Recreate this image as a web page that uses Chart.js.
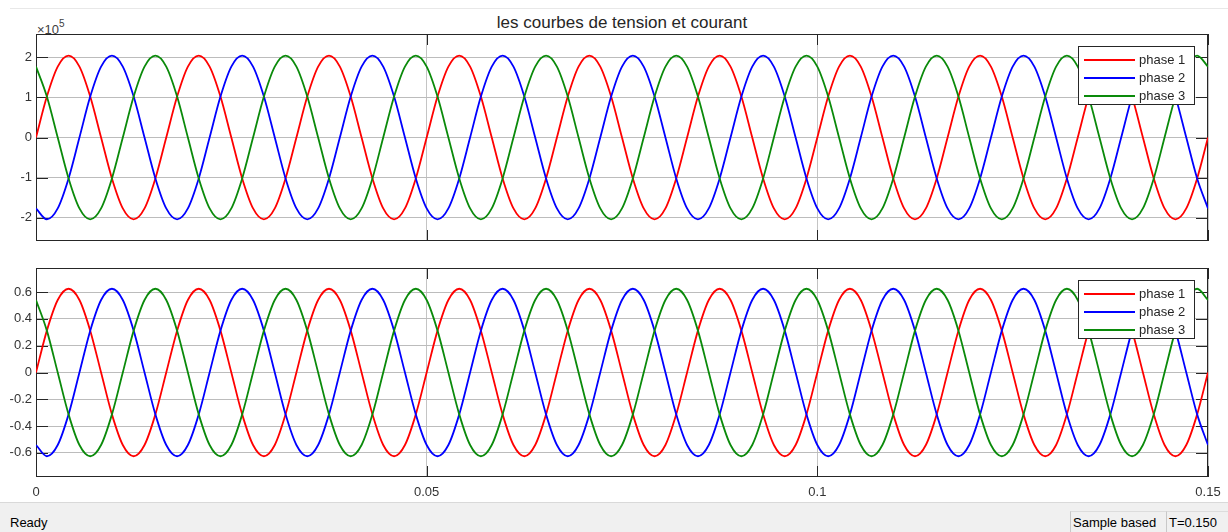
<!DOCTYPE html>
<html lang="fr">
<head>
<meta charset="utf-8">
<title>les courbes de tension et courant</title>
<script src="https://cdn.jsdelivr.net/npm/chart.js@4.4.1/dist/chart.umd.min.js"></script>
<style>
    body { margin: 0; width: 1228px; height: 532px; background: #fff; position: relative; overflow: hidden;
           font-family: "Liberation Sans", Arial, sans-serif; }
    canvas { position: absolute; left: 0; }
    #c1 { top: 0; }
    #c2 { top: 250px; }
    .filet { position: absolute; left: 10px; right: 0; top: 8px; border-top: 1px solid #e8e8e8; }
    .titre { position: absolute; left: 36px; width: 1172px; top: 13px; text-align: center;
             font-size: 17px; color: #262626; }
    .expo { position: absolute; left: 37px; top: 20px; font-size: 13px; color: #404040; }
    .expo sup { font-size: 10px; position: relative; top: -2px; }
    .statut { position: absolute; left: 0; right: 0; top: 502px; bottom: 0; background: #f0f0f0;
              border-top: 1px solid #d9d9d9; font-size: 13px; color: #000; }
    .statut span { position: absolute; top: 12px; }
    .case { position: absolute; top: 8px; bottom: 0; border-left: 1px solid #c8c8c8; border-top: 1px solid #dcdcdc; }
</style>
</head>
<body>
<div class="filet"></div>
<div class="titre">les courbes de tension et courant</div>
<div class="expo">&times;10<sup>5</sup></div>
<canvas id="c1" width="1228" height="250"></canvas>
<canvas id="c2" width="1228" height="252"></canvas>
<div class="statut">
    <span style="left:10px">Ready</span>
    <div class="case" style="left:1070px; width:95px"></div>
    <div class="case" style="left:1166px; width:62px"></div>
    <span style="left:1073px">Sample based</span>
    <span style="left:1169px">T=0.150</span>
</div>
<script>
// Instants d'échantillonnage (s)
const TEMPS = [
    0, 0.00139, 0.00278, 0.00417, 0.00556, 0.00694, 0.00833, 0.00972, 0.01111, 0.0125, 0.01389, 0.01528,
    0.01667, 0.01806, 0.01944, 0.02083, 0.02222, 0.02361, 0.025, 0.02639, 0.02778, 0.02917, 0.03056, 0.03194,
    0.03333, 0.03472, 0.03611, 0.0375, 0.03889, 0.04028, 0.04167, 0.04306, 0.04444, 0.04583, 0.04722, 0.04861,
    0.05, 0.05139, 0.05278, 0.05417, 0.05556, 0.05694, 0.05833, 0.05972, 0.06111, 0.0625, 0.06389, 0.06528,
    0.06667, 0.06806, 0.06944, 0.07083, 0.07222, 0.07361, 0.075, 0.07639, 0.07778, 0.07917, 0.08056, 0.08194,
    0.08333, 0.08472, 0.08611, 0.0875, 0.08889, 0.09028, 0.09167, 0.09306, 0.09444, 0.09583, 0.09722, 0.09861,
    0.1, 0.10139, 0.10278, 0.10417, 0.10556, 0.10694, 0.10833, 0.10972, 0.11111, 0.1125, 0.11389, 0.11528,
    0.11667, 0.11806, 0.11944, 0.12083, 0.12222, 0.12361, 0.125, 0.12639, 0.12778, 0.12917, 0.13056, 0.13194,
    0.13333, 0.13472, 0.13611, 0.1375, 0.13889, 0.14028, 0.14167, 0.14306, 0.14444, 0.14583, 0.14722, 0.14861,
    0.15
];

// Tensions (V)
const TENSION_PHASE1 = [
    0, 102000, 176700, 204000, 176700, 102000, 0, -102000, -176700, -204000, -176700, -102000,
    0, 102000, 176700, 204000, 176700, 102000, 0, -102000, -176700, -204000, -176700, -102000,
    0, 102000, 176700, 204000, 176700, 102000, 0, -102000, -176700, -204000, -176700, -102000,
    0, 102000, 176700, 204000, 176700, 102000, 0, -102000, -176700, -204000, -176700, -102000,
    0, 102000, 176700, 204000, 176700, 102000, 0, -102000, -176700, -204000, -176700, -102000,
    0, 102000, 176700, 204000, 176700, 102000, 0, -102000, -176700, -204000, -176700, -102000,
    0, 102000, 176700, 204000, 176700, 102000, 0, -102000, -176700, -204000, -176700, -102000,
    0, 102000, 176700, 204000, 176700, 102000, 0, -102000, -176700, -204000, -176700, -102000,
    0, 102000, 176700, 204000, 176700, 102000, 0, -102000, -176700, -204000, -176700, -102000,
    0
];
const TENSION_PHASE2 = [
    -176700, -204000, -176700, -102000, 0, 102000, 176700, 204000, 176700, 102000, 0, -102000,
    -176700, -204000, -176700, -102000, 0, 102000, 176700, 204000, 176700, 102000, 0, -102000,
    -176700, -204000, -176700, -102000, 0, 102000, 176700, 204000, 176700, 102000, 0, -102000,
    -176700, -204000, -176700, -102000, 0, 102000, 176700, 204000, 176700, 102000, 0, -102000,
    -176700, -204000, -176700, -102000, 0, 102000, 176700, 204000, 176700, 102000, 0, -102000,
    -176700, -204000, -176700, -102000, 0, 102000, 176700, 204000, 176700, 102000, 0, -102000,
    -176700, -204000, -176700, -102000, 0, 102000, 176700, 204000, 176700, 102000, 0, -102000,
    -176700, -204000, -176700, -102000, 0, 102000, 176700, 204000, 176700, 102000, 0, -102000,
    -176700, -204000, -176700, -102000, 0, 102000, 176700, 204000, 176700, 102000, 0, -102000,
    -176700
];
const TENSION_PHASE3 = [
    176700, 102000, 0, -102000, -176700, -204000, -176700, -102000, 0, 102000, 176700, 204000,
    176700, 102000, 0, -102000, -176700, -204000, -176700, -102000, 0, 102000, 176700, 204000,
    176700, 102000, 0, -102000, -176700, -204000, -176700, -102000, 0, 102000, 176700, 204000,
    176700, 102000, 0, -102000, -176700, -204000, -176700, -102000, 0, 102000, 176700, 204000,
    176700, 102000, 0, -102000, -176700, -204000, -176700, -102000, 0, 102000, 176700, 204000,
    176700, 102000, 0, -102000, -176700, -204000, -176700, -102000, 0, 102000, 176700, 204000,
    176700, 102000, 0, -102000, -176700, -204000, -176700, -102000, 0, 102000, 176700, 204000,
    176700, 102000, 0, -102000, -176700, -204000, -176700, -102000, 0, 102000, 176700, 204000,
    176700, 102000, 0, -102000, -176700, -204000, -176700, -102000, 0, 102000, 176700, 204000,
    176700
];

// Courants (A)
const COURANT_PHASE1 = [
    0, 0.3125, 0.5413, 0.625, 0.5413, 0.3125, 0, -0.3125, -0.5413, -0.625, -0.5413, -0.3125,
    0, 0.3125, 0.5413, 0.625, 0.5413, 0.3125, 0, -0.3125, -0.5413, -0.625, -0.5413, -0.3125,
    0, 0.3125, 0.5413, 0.625, 0.5413, 0.3125, 0, -0.3125, -0.5413, -0.625, -0.5413, -0.3125,
    0, 0.3125, 0.5413, 0.625, 0.5413, 0.3125, 0, -0.3125, -0.5413, -0.625, -0.5413, -0.3125,
    0, 0.3125, 0.5413, 0.625, 0.5413, 0.3125, 0, -0.3125, -0.5413, -0.625, -0.5413, -0.3125,
    0, 0.3125, 0.5413, 0.625, 0.5413, 0.3125, 0, -0.3125, -0.5413, -0.625, -0.5413, -0.3125,
    0, 0.3125, 0.5413, 0.625, 0.5413, 0.3125, 0, -0.3125, -0.5413, -0.625, -0.5413, -0.3125,
    0, 0.3125, 0.5413, 0.625, 0.5413, 0.3125, 0, -0.3125, -0.5413, -0.625, -0.5413, -0.3125,
    0, 0.3125, 0.5413, 0.625, 0.5413, 0.3125, 0, -0.3125, -0.5413, -0.625, -0.5413, -0.3125,
    0
];
const COURANT_PHASE2 = [
    -0.5413, -0.625, -0.5413, -0.3125, 0, 0.3125, 0.5413, 0.625, 0.5413, 0.3125, 0, -0.3125,
    -0.5413, -0.625, -0.5413, -0.3125, 0, 0.3125, 0.5413, 0.625, 0.5413, 0.3125, 0, -0.3125,
    -0.5413, -0.625, -0.5413, -0.3125, 0, 0.3125, 0.5413, 0.625, 0.5413, 0.3125, 0, -0.3125,
    -0.5413, -0.625, -0.5413, -0.3125, 0, 0.3125, 0.5413, 0.625, 0.5413, 0.3125, 0, -0.3125,
    -0.5413, -0.625, -0.5413, -0.3125, 0, 0.3125, 0.5413, 0.625, 0.5413, 0.3125, 0, -0.3125,
    -0.5413, -0.625, -0.5413, -0.3125, 0, 0.3125, 0.5413, 0.625, 0.5413, 0.3125, 0, -0.3125,
    -0.5413, -0.625, -0.5413, -0.3125, 0, 0.3125, 0.5413, 0.625, 0.5413, 0.3125, 0, -0.3125,
    -0.5413, -0.625, -0.5413, -0.3125, 0, 0.3125, 0.5413, 0.625, 0.5413, 0.3125, 0, -0.3125,
    -0.5413, -0.625, -0.5413, -0.3125, 0, 0.3125, 0.5413, 0.625, 0.5413, 0.3125, 0, -0.3125,
    -0.5413
];
const COURANT_PHASE3 = [
    0.5413, 0.3125, 0, -0.3125, -0.5413, -0.625, -0.5413, -0.3125, 0, 0.3125, 0.5413, 0.625,
    0.5413, 0.3125, 0, -0.3125, -0.5413, -0.625, -0.5413, -0.3125, 0, 0.3125, 0.5413, 0.625,
    0.5413, 0.3125, 0, -0.3125, -0.5413, -0.625, -0.5413, -0.3125, 0, 0.3125, 0.5413, 0.625,
    0.5413, 0.3125, 0, -0.3125, -0.5413, -0.625, -0.5413, -0.3125, 0, 0.3125, 0.5413, 0.625,
    0.5413, 0.3125, 0, -0.3125, -0.5413, -0.625, -0.5413, -0.3125, 0, 0.3125, 0.5413, 0.625,
    0.5413, 0.3125, 0, -0.3125, -0.5413, -0.625, -0.5413, -0.3125, 0, 0.3125, 0.5413, 0.625,
    0.5413, 0.3125, 0, -0.3125, -0.5413, -0.625, -0.5413, -0.3125, 0, 0.3125, 0.5413, 0.625,
    0.5413, 0.3125, 0, -0.3125, -0.5413, -0.625, -0.5413, -0.3125, 0, 0.3125, 0.5413, 0.625,
    0.5413, 0.3125, 0, -0.3125, -0.5413, -0.625, -0.5413, -0.3125, 0, 0.3125, 0.5413, 0.625,
    0.5413
];

// Graduations
const TICKS_TEMPS = [0, 0.05, 0.1, 0.15];
const TICKS_TENSION = [-200000, -100000, 0, 100000, 200000];
const TICKS_COURANT = [-0.6, -0.4, -0.2, 0, 0.2, 0.4, 0.6];

const PHASES = ['phase 1', 'phase 2', 'phase 3'];
const COULEURS = ['#ff0000', '#0000ff', '#0a8a0a'];
const POLICE = '"Liberation Sans", Arial, sans-serif';

// Cadre et graduations intérieures (style scope)
const cadrePlugin = {
    id: 'cadre',
    beforeDatasetsDraw(chart) {
        const { ctx, chartArea: a, scales } = chart;
        ctx.save();
        ctx.strokeStyle = '#262626';
        ctx.lineWidth = 1;
        ctx.beginPath();
        scales.y.ticks.forEach(t => {
            const py = Math.round(scales.y.getPixelForValue(t.value)) + 0.5;
            ctx.moveTo(a.left, py); ctx.lineTo(a.left + 12, py);
            ctx.moveTo(a.right, py); ctx.lineTo(a.right - 12, py);
        });
        scales.x.ticks.forEach(t => {
            const px = Math.round(scales.x.getPixelForValue(t.value)) + 0.5;
            ctx.moveTo(px, a.top); ctx.lineTo(px, a.top + 11);
            ctx.moveTo(px, a.bottom); ctx.lineTo(px, a.bottom - 11);
        });
        ctx.stroke();
        ctx.strokeRect(a.left + 0.5, a.top + 0.5, a.right - a.left - 1, a.bottom - a.top - 1);
        ctx.restore();
    }
};

// Légende dans le coin haut droit
const legendePlugin = {
    id: 'legende',
    afterDraw(chart) {
        const { ctx, chartArea: a } = chart;
        const w = 116, h = 58;
        const x = Math.round(a.right - 14 - w);
        const y = Math.round(a.top + 12);
        ctx.save();
        ctx.fillStyle = '#fff';
        ctx.fillRect(x, y, w, h);
        ctx.strokeStyle = '#262626';
        ctx.lineWidth = 1;
        ctx.strokeRect(x + 0.5, y + 0.5, w, h);
        ctx.font = '13px ' + POLICE;
        ctx.textBaseline = 'middle';
        chart.data.datasets.forEach((ds, i) => {
            const ly = y + 14 + i * 18;
            ctx.strokeStyle = ds.borderColor;
            ctx.lineWidth = 2;
            ctx.beginPath();
            ctx.moveTo(x + 6, ly);
            ctx.lineTo(x + 57, ly);
            ctx.stroke();
            ctx.fillStyle = '#262626';
            ctx.fillText(ds.label, x + 61, ly);
        });
        ctx.restore();
    }
};

function creerScope(id, series, yMax, yTicks, formatY, hauteurX, padding) {
    const datasets = series.map((valeurs, i) => ({
        label: PHASES[i],
        data: TEMPS.map((t, k) => ({ x: t, y: valeurs[k] })),
        borderColor: COULEURS[i],
        borderWidth: 1.8,
        pointRadius: 0,
        cubicInterpolationMode: 'monotone',
        order: 3 - i
    }));

    return new Chart(document.getElementById(id), {
        type: 'line',
        data: { datasets: datasets },
        options: {
            responsive: false,
            animation: false,
            layout: { padding: padding },
            plugins: { legend: { display: false }, tooltip: { enabled: false } },
            scales: {
                x: {
                    type: 'linear',
                    min: 0,
                    max: 0.15,
                    afterBuildTicks: s => { s.ticks = TICKS_TEMPS.map(v => ({ value: v })); },
                    afterFit: s => {
                        s.height = hauteurX;
                        s.paddingLeft = 0;
                        s.paddingRight = 0;
                    },
                    border: { display: false },
                    grid: { color: '#c4c4c4', drawTicks: false },
                    ticks: {
                        display: hauteurX > 0,
                        padding: 8,
                        maxRotation: 0,
                        color: '#333',
                        font: { family: POLICE, size: 13 },
                        callback: v => String(v)
                    }
                },
                y: {
                    min: -yMax,
                    max: yMax,
                    afterBuildTicks: s => { s.ticks = yTicks.map(v => ({ value: v })); },
                    afterFit: s => {
                        // cadre fixe : pas de marge due aux étiquettes
                        s.width = 36;
                        s.paddingTop = 0;
                        s.paddingBottom = 0;
                    },
                    border: { display: false },
                    grid: { color: '#bcbcbc', drawTicks: false },
                    ticks: {
                        padding: 4,
                        color: '#333',
                        font: { family: POLICE, size: 13 },
                        callback: formatY
                    }
                }
            }
        },
        plugins: [cadrePlugin, legendePlugin]
    });
}

creerScope('c1', [TENSION_PHASE1, TENSION_PHASE2, TENSION_PHASE3], 258000, TICKS_TENSION,
    v => String(Math.round(v / 100000)), 0, { top: 34, right: 20, bottom: 9, left: 0 });

creerScope('c2', [COURANT_PHASE1, COURANT_PHASE2, COURANT_PHASE3], 0.78, TICKS_COURANT,
    v => String(Math.round(v * 10) / 10), 25, { top: 18, right: 20, bottom: 0, left: 0 });
</script>
</body>
</html>
